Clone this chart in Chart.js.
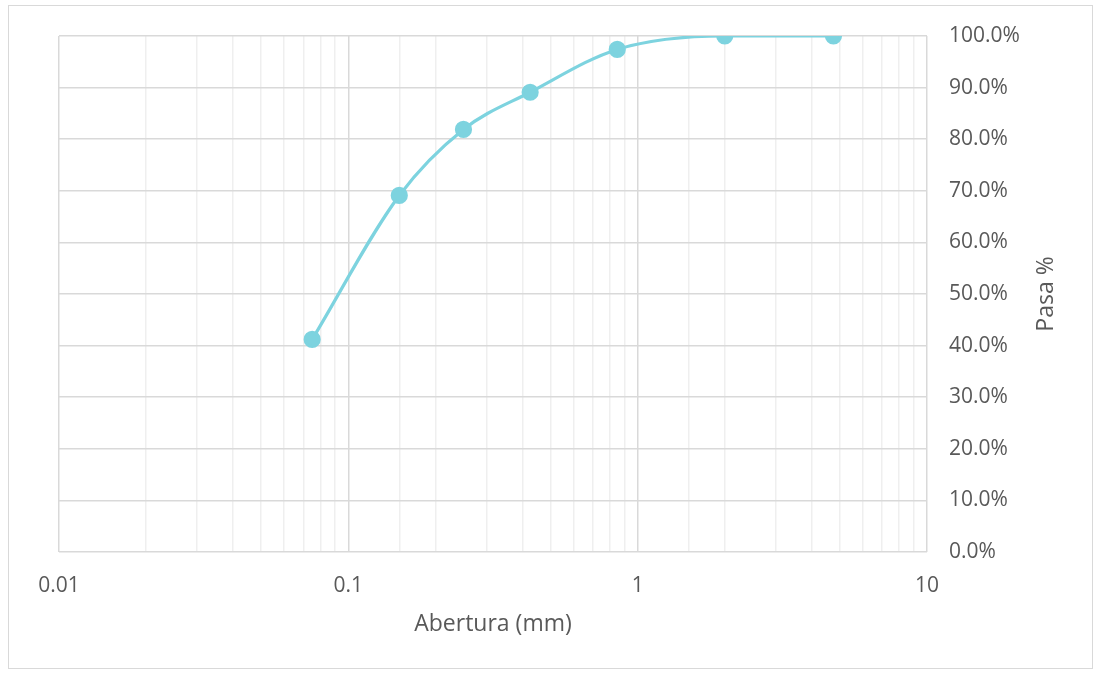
<!DOCTYPE html>
<html>
<head>
<meta charset="utf-8">
<script src="https://cdn.jsdelivr.net/npm/chart.js@4.4.1/dist/chart.umd.min.js"></script>
<style>
  html, body { margin: 0; padding: 0; background: #fff; }
  #wrap { position: relative; width: 1096px; height: 674px; }
  #frame { position: absolute; left: 8px; top: 5px; width: 1085px; height: 664px; border: 1px solid #d9d9d9; box-sizing: border-box; }
  canvas { position: absolute; left: 0; top: 0; }
</style>
</head>
<body>
<div id="wrap">
  <div id="frame"></div>
  <canvas id="chart" width="1096" height="674"></canvas>
</div>
<script>
// sieve openings (mm) and percent passing
const aberturas = [0.075, 0.15, 0.25, 0.425, 0.85, 2, 4.75];
const pasa = [41.2, 69.1, 81.9, 89.1, 97.4, 100, 100];
const xTickLabels = ['0.01', '0.1', '1', '10'];
const yTickValues = [0, 10, 20, 30, 40, 50, 60, 70, 80, 90, 100];
const xTitle = 'Abertura (mm)';
const yTitle = 'Pasa %';

const FONT = "'Open Sans', sans-serif";
const TEXT = '#595959';
const LINE = '#7dd3df';

function isDecade(v) {
  const l = Math.log10(v);
  return Math.abs(l - Math.round(l)) < 1e-6;
}

const titlesPlugin = {
  id: 'titles',
  afterDraw(chart) {
    const ctx = chart.ctx;
    const area = chart.chartArea;
    ctx.save();
    ctx.fillStyle = TEXT;
    ctx.font = `23px ${FONT}`;
    ctx.textAlign = 'center';
    ctx.textBaseline = 'middle';
    ctx.fillText(xTitle, (area.left + area.right) / 2, 624);
    ctx.translate(1046, (area.top + area.bottom) / 2);
    ctx.rotate(-Math.PI / 2);
    ctx.fillText(yTitle, 0, 0);
    ctx.restore();
  }
};

const ctx = document.getElementById('chart').getContext('2d');
new Chart(ctx, {
  type: 'scatter',
  data: {
    datasets: [{
      label: 'Pasa %',
      data: aberturas.map((x, i) => ({ x, y: pasa[i] })),
      showLine: true,
      borderColor: LINE,
      backgroundColor: LINE,
      borderWidth: 3.2,
      pointRadius: 7,
      pointHoverRadius: 7,
      cubicInterpolationMode: 'monotone'
    }]
  },
  options: {
    responsive: false,
    animation: false,
    layout: { padding: { top: 36, left: 59, right: 0, bottom: 0 } },
    plugins: { legend: { display: false }, tooltip: { enabled: false } },
    scales: {
      x: {
        type: 'logarithmic',
        min: 0.01,
        max: 10,
        border: { display: false },
        grid: {
          drawTicks: false,
          lineWidth: 1.5,
          color: (c) => (c.tick && isDecade(c.tick.value)) ? '#d9d9d9' : '#efefef'
        },
        ticks: {
          autoSkip: false,
          maxRotation: 0,
          padding: 21,
          color: TEXT,
          font: { family: FONT, size: 21 },
          callback: (v) => {
            if (!isDecade(v)) return '';
            const idx = Math.round(Math.log10(v)) + 2;
            return xTickLabels[idx];
          }
        },
        afterFit: (s) => { s.height = 122; }
      },
      y: {
        position: 'right',
        min: 0,
        max: 100,
        border: { display: false },
        grid: { drawTicks: false, color: '#d9d9d9', lineWidth: 1.5 },
        afterBuildTicks: (s) => { s.ticks = yTickValues.map(v => ({ value: v })); },
        ticks: {
          padding: 22,
          color: TEXT,
          font: { family: FONT, size: 21 },
          callback: (v) => v.toFixed(1) + '%'
        },
        afterFit: (s) => { s.width = 1096 - 927; }
      }
    }
  },
  plugins: [titlesPlugin]
});
</script>
</body>
</html>
